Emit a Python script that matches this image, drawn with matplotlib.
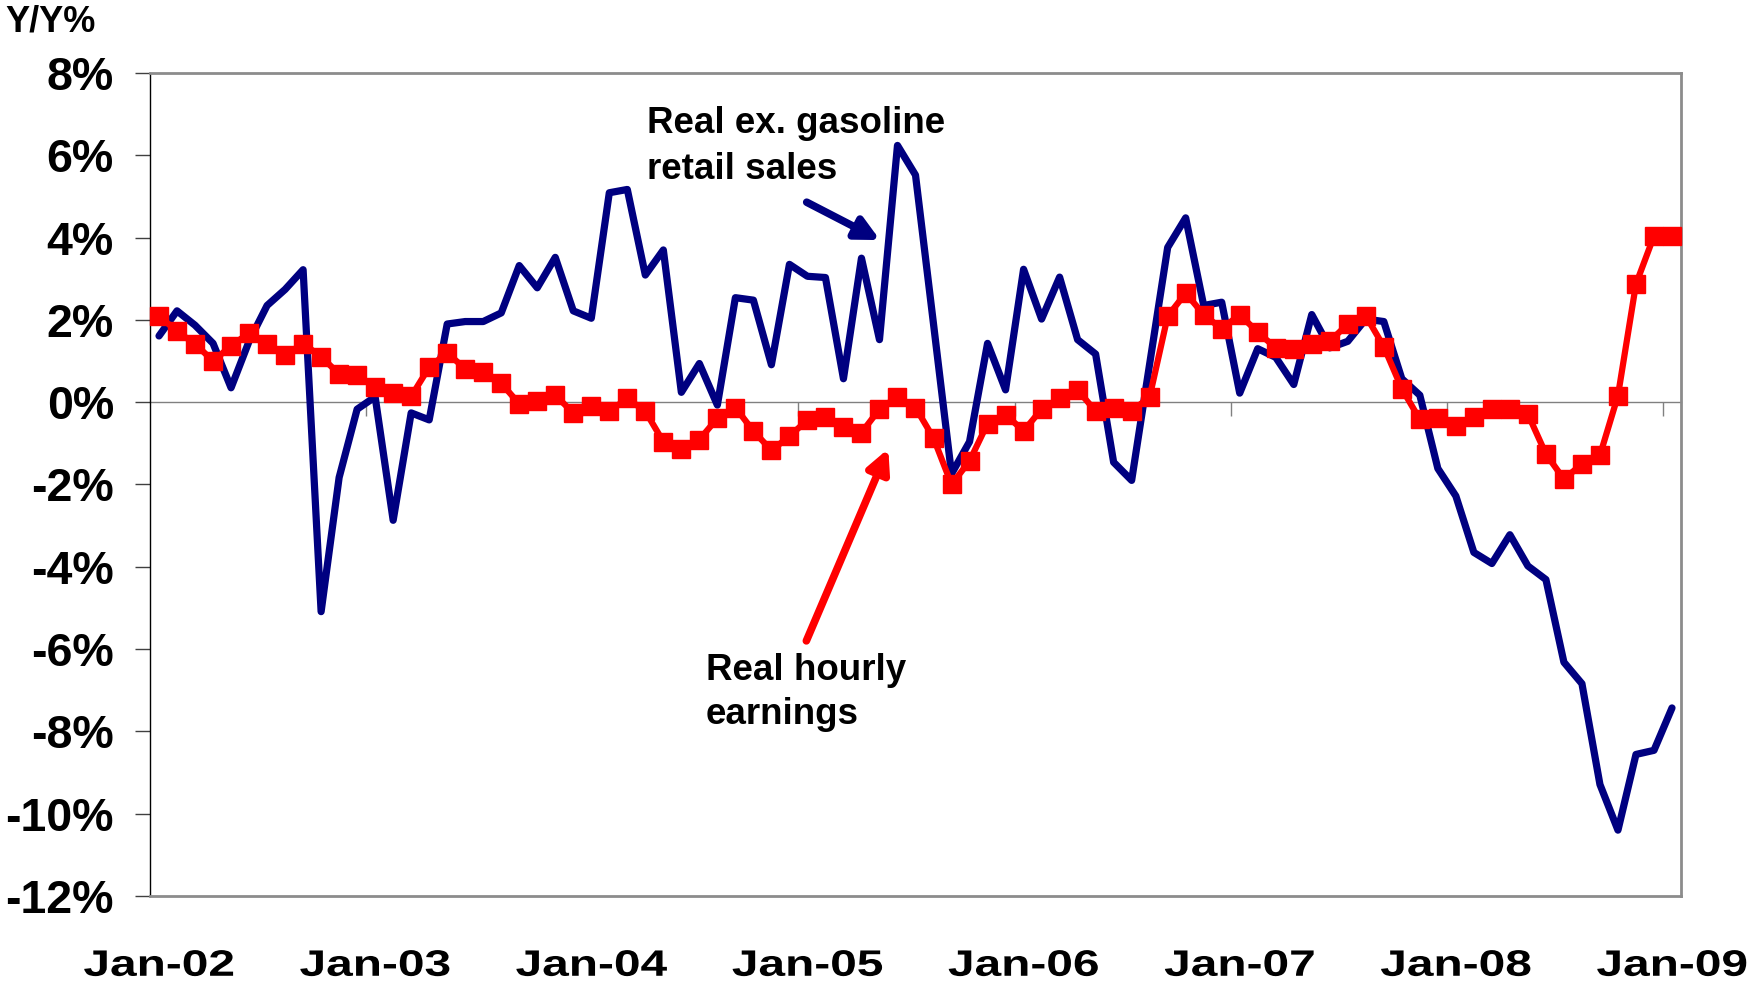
import numpy as np
import matplotlib
matplotlib.use('Agg')
import matplotlib.pyplot as plt
from matplotlib.patheffects import AbstractPathEffect
from matplotlib.transforms import Affine2D

plt.rcParams['font.family'] = ['Liberation Sans', 'DejaVu Sans']
plt.rcParams['font.weight'] = 'bold'

# monthly, Jan-02 .. Jan-09, y/y %
year_labels = ['Jan-02', 'Jan-03', 'Jan-04', 'Jan-05', 'Jan-06', 'Jan-07', 'Jan-08', 'Jan-09']

retail_sales = [1.61, 2.22, 1.87, 1.43, 0.35, 1.48, 2.35, 2.74, 3.22, -5.09, -1.83, -0.17,
                0.13, -2.87, -0.26, -0.43, 1.90, 1.96, 1.96, 2.17, 3.32, 2.78, 3.52, 2.22,
                2.04, 5.09, 5.17, 3.09, 3.70, 0.24, 0.94, -0.07, 2.54, 2.48, 0.91, 3.35,
                3.06, 3.03, 0.57, 3.50, 1.52, 6.24, 5.52, 1.90, -1.74, -0.96, 1.43, 0.30,
                3.23, 2.02, 3.04, 1.52, 1.17, -1.46, -1.90, 0.93, 3.76, 4.48, 2.35, 2.43,
                0.22, 1.30, 1.09, 0.43, 2.13, 1.32, 1.48, 2.02, 1.96, 0.57, 0.17, -1.61,
                -2.28, -3.65, -3.92, -3.22, -3.98, -4.31, -6.32, -6.84, -9.29, -10.40, -8.56, -8.46,
                -7.43]

hourly_earnings = [2.10, 1.72, 1.42, 1.00, 1.37, 1.68, 1.42, 1.15, 1.42, 1.11, 0.68, 0.65,
                   0.37, 0.23, 0.14, 0.85, 1.20, 0.81, 0.74, 0.46, -0.04, 0.02, 0.17, -0.26,
                   -0.09, -0.22, 0.09, -0.22, -0.96, -1.13, -0.91, -0.39, -0.13, -0.70, -1.17, -0.83,
                   -0.43, -0.35, -0.61, -0.74, -0.17, 0.13, -0.13, -0.87, -2.00, -1.43, -0.52, -0.30,
                   -0.70, -0.17, 0.09, 0.30, -0.22, -0.13, -0.22, 0.13, 2.09, 2.65, 2.13, 1.78,
                   2.13, 1.70, 1.32, 1.30, 1.42, 1.48, 1.90, 2.10, 1.35, 0.33, -0.42, -0.39,
                   -0.57, -0.35, -0.16, -0.16, -0.29, -1.26, -1.87, -1.50, -1.29, 0.16, 2.87, 4.04,
                   4.04]

x = np.arange(len(retail_sales))


class StretchX(AbstractPathEffect):
    # the date labels in the original are drawn wider than the font
    def __init__(self, sx):
        super().__init__()
        self.sx = sx

    def draw_path(self, renderer, gc, tpath, affine, rgbFace=None):
        ext = tpath.get_extents()
        cx = (ext.x0 + ext.x1) / 2
        t = Affine2D().translate(-cx, 0).scale(self.sx, 1).translate(cx, 0) + affine
        renderer.draw_path(gc, tpath, t, rgbFace)


fig = plt.figure(figsize=(17.49, 9.93), dpi=100)
ax = fig.add_axes([150 / 1749, 97 / 993, 1531 / 1749, 823 / 993])

ax.plot(x, retail_sales, color='#000080', lw=5.2, solid_joinstyle='round',
        solid_capstyle='round', zorder=3)
ax.plot(x, hourly_earnings, color='#FF0000', lw=4.5, marker='s', ms=13.5,
        mec='#FF0000', mfc='#FF0000', zorder=4, clip_on=False)

ax.set_xlim(-0.5, 84.5)
ax.set_ylim(-12, 8)

yt = np.arange(-12, 9, 2)
ax.set_yticks(yt)
ax.set_yticklabels([f'{v}%' for v in yt])
ax.tick_params(axis='y', direction='out', length=11, width=1, color='#404040',
               pad=15, labelsize=33.5)

ax.set_xticks(x[::12])
ax.set_xticklabels(year_labels)
ax.tick_params(axis='x', length=0, pad=38, labelsize=26.5)
for lbl in ax.get_xticklabels():
    lbl.set_path_effects([StretchX(1.3)])

for s in ['top', 'right', 'bottom']:
    ax.spines[s].set_color('#8c8c8c')
    ax.spines[s].set_linewidth(2)
ax.spines['left'].set_color('black')
ax.spines['left'].set_linewidth(1)

# category axis crosses at 0
zero_pos = (0 - (-12)) / 20
sec = ax.secondary_xaxis(zero_pos)
sec.set_alignment('bottom')
sec.set_xticks(x[::12][1:] - 0.5)
sec.tick_params(direction='out', length=10, width=1, color='#808080', labelbottom=False)
sec.spines['bottom'].set_color('#808080')
sec.spines['bottom'].set_linewidth(1)

# multi-line text: baseline anchor is the last line
ax.text(27.07, 5.42, 'Real ex. gasoline\nretail sales', fontsize=26.5,
        ha='left', va='baseline', linespacing=1.4, zorder=5)
ax.annotate('', xy=(40.03, 3.94), xytext=(35.96, 4.86),
            arrowprops=dict(arrowstyle='-|>', color='#000080', lw=5.5,
                            mutation_scale=34, shrinkA=0, shrinkB=0))

ax.text(30.37, -7.83, 'Real hourly\nearnings', fontsize=26.5,
        ha='left', va='baseline', linespacing=1.35, zorder=5)
ax.annotate('', xy=(40.49, -1.13), xytext=(35.94, -5.80),
            arrowprops=dict(arrowstyle='-|>', color='#FF0000', lw=5.5,
                            mutation_scale=34, shrinkA=0, shrinkB=0))

fig.text(5 / 1749, 1 - 32 / 993, 'Y/Y%', fontsize=26, ha='left', va='baseline')

fig.savefig('out.png', dpi=100)
